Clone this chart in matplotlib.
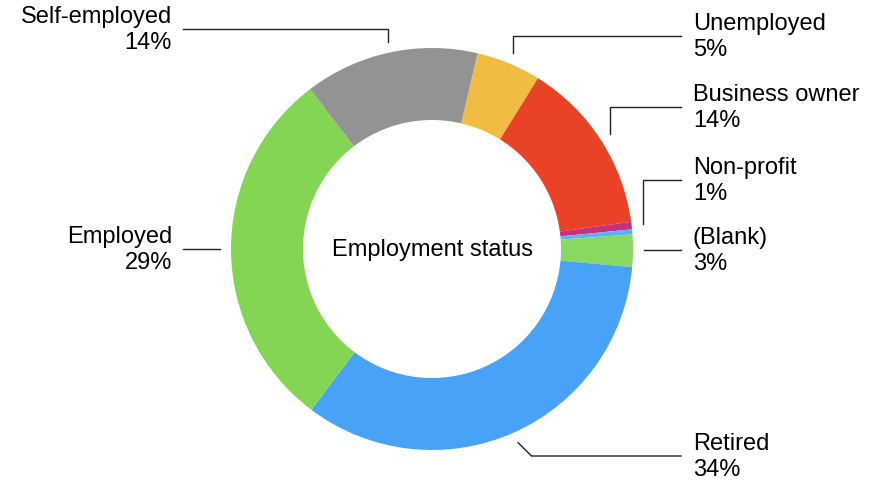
import numpy as np
import matplotlib.pyplot as plt

# slices, clockwise from the top
names = ['Unemployed', 'Business owner', 'Non-profit', '', '(Blank)', 'Retired', 'Employed', 'Self-employed']
values = [5.2, 14.0, 0.6, 0.4, 2.6, 33.8, 29.4, 14.0]
colors = ['#F0BC42', '#EA4226', '#C4317C', '#5AB2F2', '#88D862', '#48A3F8', '#83D553', '#939393']

W, H = 874, 481
cx, cy = 432, H - 250
R, r_in = 201, 129

fig = plt.figure(figsize=(W / 100, H / 100), dpi=100)
ax = fig.add_axes([0, 0, 1, 1])

wedges, _ = ax.pie(values, colors=colors, startangle=76.9, counterclock=False,
                   radius=R, center=(cx, cy),
                   wedgeprops=dict(width=R - r_in, linewidth=0))
ax.set_xlim(0, W)
ax.set_ylim(0, H)
ax.set_aspect('equal')
ax.axis('off')

fs = 17
ax.text(cx, cy, 'Employment status', ha='center', va='center',
        fontsize=fs, family='Liberation Sans')

# label layout: (label centre y from top, side, leader style)
layout = {
    'Self-employed': (30, 'left', 'v'),
    'Unemployed': (37, 'right', 'v'),
    'Business owner': (108, 'right', 'v'),
    'Non-profit': (181, 'right', 'v'),
    '(Blank)': (251, 'right', 'h'),
    'Retired': (457, 'right', 'd'),
    'Employed': (250, 'left', 'h'),
}

total = sum(values)
for w, name, v in zip(wedges, names, values):
    if name == '':
        continue
    ly, side, style = layout[name]
    ly = H - ly
    mid = np.deg2rad((w.theta1 + w.theta2) / 2)
    ax_x = cx + (R + 11) * np.cos(mid)
    ax_y = cy + (R + 11) * np.sin(mid)
    if style == 'v':
        elbow = (ax_x, ly)
    elif style == 'd':
        elbow = (ax_x + abs(ly - ax_y), ly)
    else:
        elbow = (ax_x, ly)
        ax_y = ly
    end_x = 681 if side == 'right' else 183
    ax.plot([ax_x, elbow[0], end_x], [ax_y, elbow[1], ly], color='#222222', lw=1,
            solid_joinstyle='miter')
    tx = 693 if side == 'right' else 172
    ha = 'left' if side == 'right' else 'right'
    pct = '%.0f%%' % (v / total * 100)
    ax.text(tx, ly + 13, name, ha=ha, va='center', fontsize=fs, family='Liberation Sans')
    ax.text(tx, ly - 13, pct, ha=ha, va='center', fontsize=fs, family='Liberation Sans')

plt.savefig('out.png', dpi=100)
